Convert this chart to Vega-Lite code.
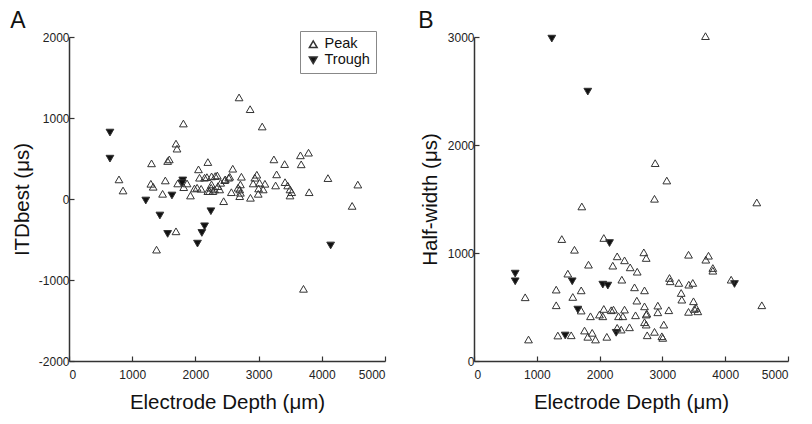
{
  "$schema": "https://vega.github.io/schema/vega-lite/v6.json",
  "background": "white",
  "padding": {"left": 10, "top": 9, "right": 2, "bottom": 2},
  "datasets": {
    "itd": [
      {"depth": 648, "itd": 820, "type": "Trough"},
      {"depth": 648, "itd": 498, "type": "Trough"},
      {"depth": 1215, "itd": -19, "type": "Trough"},
      {"depth": 1438, "itd": -204, "type": "Trough"},
      {"depth": 1561, "itd": -431, "type": "Trough"},
      {"depth": 1629, "itd": 43, "type": "Trough"},
      {"depth": 1800, "itd": 229, "type": "Trough"},
      {"depth": 1790, "itd": 195, "type": "Trough"},
      {"depth": 2245, "itd": -151, "type": "Trough"},
      {"depth": 2145, "itd": -337, "type": "Trough"},
      {"depth": 2102, "itd": -419, "type": "Trough"},
      {"depth": 2033, "itd": -551, "type": "Trough"},
      {"depth": 4140, "itd": -574, "type": "Trough"},
      {"depth": 791, "itd": 242, "type": "Peak"},
      {"depth": 855, "itd": 105, "type": "Peak"},
      {"depth": 1295, "itd": 188, "type": "Peak"},
      {"depth": 1332, "itd": 151, "type": "Peak"},
      {"depth": 1306, "itd": 440, "type": "Peak"},
      {"depth": 1385, "itd": -625, "type": "Peak"},
      {"depth": 1481, "itd": 64, "type": "Peak"},
      {"depth": 1524, "itd": 229, "type": "Peak"},
      {"depth": 1561, "itd": 469, "type": "Peak"},
      {"depth": 1587, "itd": 489, "type": "Peak"},
      {"depth": 1693, "itd": 684, "type": "Peak"},
      {"depth": 1709, "itd": 622, "type": "Peak"},
      {"depth": 1693, "itd": -399, "type": "Peak"},
      {"depth": 1810, "itd": 932, "type": "Peak"},
      {"depth": 1720, "itd": 192, "type": "Peak"},
      {"depth": 1815, "itd": 146, "type": "Peak"},
      {"depth": 1868, "itd": 192, "type": "Peak"},
      {"depth": 1922, "itd": 43, "type": "Peak"},
      {"depth": 1985, "itd": 130, "type": "Peak"},
      {"depth": 2027, "itd": 139, "type": "Peak"},
      {"depth": 2049, "itd": 366, "type": "Peak"},
      {"depth": 2065, "itd": 263, "type": "Peak"},
      {"depth": 2091, "itd": 126, "type": "Peak"},
      {"depth": 2145, "itd": 263, "type": "Peak"},
      {"depth": 2182, "itd": 270, "type": "Peak"},
      {"depth": 2197, "itd": 456, "type": "Peak"},
      {"depth": 2197, "itd": 97, "type": "Peak"},
      {"depth": 2224, "itd": 97, "type": "Peak"},
      {"depth": 2250, "itd": 139, "type": "Peak"},
      {"depth": 2256, "itd": 279, "type": "Peak"},
      {"depth": 2277, "itd": 97, "type": "Peak"},
      {"depth": 2304, "itd": 118, "type": "Peak"},
      {"depth": 2314, "itd": 283, "type": "Peak"},
      {"depth": 2346, "itd": 291, "type": "Peak"},
      {"depth": 2357, "itd": 159, "type": "Peak"},
      {"depth": 2384, "itd": 118, "type": "Peak"},
      {"depth": 2447, "itd": -27, "type": "Peak"},
      {"depth": 2463, "itd": 233, "type": "Peak"},
      {"depth": 2473, "itd": 242, "type": "Peak"},
      {"depth": 2527, "itd": 263, "type": "Peak"},
      {"depth": 2543, "itd": 275, "type": "Peak"},
      {"depth": 2569, "itd": 84, "type": "Peak"},
      {"depth": 2591, "itd": 374, "type": "Peak"},
      {"depth": 2675, "itd": 139, "type": "Peak"},
      {"depth": 2691, "itd": 1254, "type": "Peak"},
      {"depth": 2701, "itd": 35, "type": "Peak"},
      {"depth": 2712, "itd": 180, "type": "Peak"},
      {"depth": 2712, "itd": 77, "type": "Peak"},
      {"depth": 2728, "itd": 275, "type": "Peak"},
      {"depth": 2866, "itd": 1109, "type": "Peak"},
      {"depth": 2871, "itd": 15, "type": "Peak"},
      {"depth": 2914, "itd": 192, "type": "Peak"},
      {"depth": 2940, "itd": 263, "type": "Peak"},
      {"depth": 2972, "itd": 300, "type": "Peak"},
      {"depth": 2994, "itd": 64, "type": "Peak"},
      {"depth": 3015, "itd": 200, "type": "Peak"},
      {"depth": 3057, "itd": 895, "type": "Peak"},
      {"depth": 3073, "itd": 118, "type": "Peak"},
      {"depth": 3100, "itd": 188, "type": "Peak"},
      {"depth": 3242, "itd": 489, "type": "Peak"},
      {"depth": 3269, "itd": 167, "type": "Peak"},
      {"depth": 3285, "itd": 304, "type": "Peak"},
      {"depth": 3412, "itd": 431, "type": "Peak"},
      {"depth": 3418, "itd": 208, "type": "Peak"},
      {"depth": 3460, "itd": 167, "type": "Peak"},
      {"depth": 3497, "itd": 118, "type": "Peak"},
      {"depth": 3524, "itd": 84, "type": "Peak"},
      {"depth": 3497, "itd": 43, "type": "Peak"},
      {"depth": 3662, "itd": 539, "type": "Peak"},
      {"depth": 3790, "itd": 572, "type": "Peak"},
      {"depth": 3674, "itd": 428, "type": "Peak"},
      {"depth": 3710, "itd": -1109, "type": "Peak"},
      {"depth": 3800, "itd": 84, "type": "Peak"},
      {"depth": 4097, "itd": 258, "type": "Peak"},
      {"depth": 4480, "itd": -85, "type": "Peak"},
      {"depth": 4570, "itd": 178, "type": "Peak"},
      {"depth": 2701, "itd": 118, "type": "Peak"},
      {"depth": 2255, "itd": 180, "type": "Peak"},
      {"depth": 2400, "itd": 200, "type": "Peak"},
      {"depth": 3000, "itd": 130, "type": "Peak"}
    ],
    "hw": [
      {"depth": 1239, "hw": 2985, "type": "Trough"},
      {"depth": 1812, "hw": 2494, "type": "Trough"},
      {"depth": 656, "hw": 809, "type": "Trough"},
      {"depth": 656, "hw": 738, "type": "Trough"},
      {"depth": 1564, "hw": 738, "type": "Trough"},
      {"depth": 1653, "hw": 476, "type": "Trough"},
      {"depth": 1452, "hw": 236, "type": "Trough"},
      {"depth": 2051, "hw": 707, "type": "Trough"},
      {"depth": 2131, "hw": 698, "type": "Trough"},
      {"depth": 2158, "hw": 1092, "type": "Trough"},
      {"depth": 2264, "hw": 261, "type": "Trough"},
      {"depth": 4148, "hw": 713, "type": "Trough"},
      {"depth": 3686, "hw": 3008, "type": "Peak"},
      {"depth": 2885, "hw": 1832, "type": "Peak"},
      {"depth": 3070, "hw": 1671, "type": "Peak"},
      {"depth": 2874, "hw": 1502, "type": "Peak"},
      {"depth": 1717, "hw": 1431, "type": "Peak"},
      {"depth": 4503, "hw": 1468, "type": "Peak"},
      {"depth": 1398, "hw": 1129, "type": "Peak"},
      {"depth": 2067, "hw": 1139, "type": "Peak"},
      {"depth": 1600, "hw": 1030, "type": "Peak"},
      {"depth": 2704, "hw": 1006, "type": "Peak"},
      {"depth": 2742, "hw": 954, "type": "Peak"},
      {"depth": 2280, "hw": 969, "type": "Peak"},
      {"depth": 2397, "hw": 932, "type": "Peak"},
      {"depth": 2210, "hw": 883, "type": "Peak"},
      {"depth": 2487, "hw": 867, "type": "Peak"},
      {"depth": 2599, "hw": 827, "type": "Peak"},
      {"depth": 1823, "hw": 892, "type": "Peak"},
      {"depth": 1494, "hw": 809, "type": "Peak"},
      {"depth": 2354, "hw": 753, "type": "Peak"},
      {"depth": 3416, "hw": 984, "type": "Peak"},
      {"depth": 3734, "hw": 975, "type": "Peak"},
      {"depth": 3691, "hw": 938, "type": "Peak"},
      {"depth": 3803, "hw": 861, "type": "Peak"},
      {"depth": 3803, "hw": 836, "type": "Peak"},
      {"depth": 3113, "hw": 769, "type": "Peak"},
      {"depth": 3124, "hw": 738, "type": "Peak"},
      {"depth": 3261, "hw": 723, "type": "Peak"},
      {"depth": 3420, "hw": 707, "type": "Peak"},
      {"depth": 3484, "hw": 723, "type": "Peak"},
      {"depth": 4095, "hw": 753, "type": "Peak"},
      {"depth": 4583, "hw": 516, "type": "Peak"},
      {"depth": 1309, "hw": 661, "type": "Peak"},
      {"depth": 1707, "hw": 654, "type": "Peak"},
      {"depth": 1573, "hw": 593, "type": "Peak"},
      {"depth": 815, "hw": 590, "type": "Peak"},
      {"depth": 2556, "hw": 682, "type": "Peak"},
      {"depth": 2715, "hw": 654, "type": "Peak"},
      {"depth": 3299, "hw": 630, "type": "Peak"},
      {"depth": 3309, "hw": 568, "type": "Peak"},
      {"depth": 3495, "hw": 553, "type": "Peak"},
      {"depth": 3511, "hw": 482, "type": "Peak"},
      {"depth": 3564, "hw": 460, "type": "Peak"},
      {"depth": 3416, "hw": 455, "type": "Peak"},
      {"depth": 3102, "hw": 470, "type": "Peak"},
      {"depth": 2927, "hw": 513, "type": "Peak"},
      {"depth": 2927, "hw": 451, "type": "Peak"},
      {"depth": 2715, "hw": 506, "type": "Peak"},
      {"depth": 2742, "hw": 430, "type": "Peak"},
      {"depth": 2593, "hw": 559, "type": "Peak"},
      {"depth": 2572, "hw": 423, "type": "Peak"},
      {"depth": 2397, "hw": 476, "type": "Peak"},
      {"depth": 2370, "hw": 414, "type": "Peak"},
      {"depth": 2301, "hw": 414, "type": "Peak"},
      {"depth": 2221, "hw": 476, "type": "Peak"},
      {"depth": 2185, "hw": 470, "type": "Peak"},
      {"depth": 2067, "hw": 482, "type": "Peak"},
      {"depth": 2051, "hw": 414, "type": "Peak"},
      {"depth": 1998, "hw": 430, "type": "Peak"},
      {"depth": 1855, "hw": 414, "type": "Peak"},
      {"depth": 1707, "hw": 467, "type": "Peak"},
      {"depth": 1309, "hw": 516, "type": "Peak"},
      {"depth": 2715, "hw": 359, "type": "Peak"},
      {"depth": 2742, "hw": 337, "type": "Peak"},
      {"depth": 3022, "hw": 337, "type": "Peak"},
      {"depth": 2476, "hw": 312, "type": "Peak"},
      {"depth": 2344, "hw": 291, "type": "Peak"},
      {"depth": 2280, "hw": 307, "type": "Peak"},
      {"depth": 1760, "hw": 282, "type": "Peak"},
      {"depth": 1882, "hw": 261, "type": "Peak"},
      {"depth": 1812, "hw": 224, "type": "Peak"},
      {"depth": 1935, "hw": 199, "type": "Peak"},
      {"depth": 2115, "hw": 224, "type": "Peak"},
      {"depth": 2758, "hw": 238, "type": "Peak"},
      {"depth": 2874, "hw": 270, "type": "Peak"},
      {"depth": 2991, "hw": 229, "type": "Peak"},
      {"depth": 3006, "hw": 214, "type": "Peak"},
      {"depth": 1335, "hw": 236, "type": "Peak"},
      {"depth": 1548, "hw": 238, "type": "Peak"},
      {"depth": 868, "hw": 199, "type": "Peak"},
      {"depth": 3538, "hw": 492, "type": "Peak"},
      {"depth": 2752, "hw": 439, "type": "Peak"}
    ]
  },
  "spacing": 32,
  "hconcat": [
    {
      "title": {"text": "A", "anchor": "start", "frame": "bounds", "fontSize": 23, "fontWeight": "normal", "font": "Liberation Sans", "color": "#111", "baseline": "alphabetic", "dx": -2, "offset": -20},
      "width": 316,
      "height": 324,
      "data": {"name": "itd"},
      "mark": {"type": "point", "size": 60, "strokeWidth": 1, "stroke": "#333", "opacity": 1},
      "encoding": {
        "x": {"field": "depth", "type": "quantitative", "scale": {"domain": [0, 5000], "nice": false}, "axis": {"values": [0, 1000, 2000, 3000, 4000, 5000], "title": "Electrode Depth (μm)", "labelExpr": "toString(datum.value)", "tickSize": -5}},
        "y": {"field": "itd", "type": "quantitative", "scale": {"domain": [-2000, 2000], "nice": false}, "axis": {"values": [-2000, -1000, 0, 1000, 2000], "title": "ITDbest (μs)", "labelExpr": "toString(datum.value)", "tickSize": -5, "titlePadding": 6}},
        "shape": {"field": "type", "type": "nominal", "scale": {"domain": ["Peak", "Trough"], "range": ["triangle-up", "triangle-down"]}, "legend": {"title": null, "orient": "none", "legendX": 231, "legendY": -6, "strokeColor": "#888", "padding": 6, "labelFontSize": 14.5, "labelFont": "Liberation Sans", "labelColor": "#111", "symbolSize": 60, "rowPadding": 1, "encode": {"symbols": {"update": {"stroke": {"value": "#333"}, "strokeWidth": {"value": 1}}}}}},
        "fill": {"field": "type", "type": "nominal", "scale": {"domain": ["Peak", "Trough"], "range": ["rgba(255,255,255,0)", "#111"]}, "legend": null}
      }
    },
    {
      "title": {"text": "B", "anchor": "start", "frame": "bounds", "fontSize": 23, "fontWeight": "normal", "font": "Liberation Sans", "color": "#111", "baseline": "alphabetic", "dx": -2, "offset": -20},
      "width": 314,
      "height": 324,
      "data": {"name": "hw"},
      "mark": {"type": "point", "size": 60, "strokeWidth": 1, "stroke": "#333", "opacity": 1},
      "encoding": {
        "x": {"field": "depth", "type": "quantitative", "scale": {"domain": [0, 5000], "nice": false}, "axis": {"values": [0, 1000, 2000, 3000, 4000, 5000], "title": "Electrode Depth (μm)", "labelExpr": "toString(datum.value)", "tickSize": -5}},
        "y": {"field": "hw", "type": "quantitative", "scale": {"domain": [0, 3000], "nice": false}, "axis": {"values": [0, 1000, 2000, 3000], "title": "Half-width (μs)", "labelExpr": "toString(datum.value)", "tickSize": -5, "titlePadding": 7}},
        "shape": {"field": "type", "type": "nominal", "scale": {"domain": ["Peak", "Trough"], "range": ["triangle-up", "triangle-down"]}, "legend": null},
        "fill": {"field": "type", "type": "nominal", "scale": {"domain": ["Peak", "Trough"], "range": ["rgba(255,255,255,0)", "#111"]}, "legend": null}
      }
    }
  ],
  "resolve": {"scale": {"shape": "independent", "fill": "independent"}},
  "config": {
    "view": {"stroke": null},
    "axis": {
      "grid": false,
      "domainColor": "#333",
      "domainWidth": 1.5,
      "tickColor": "#333",
      "tickWidth": 1.2,
      "labelColor": "#222",
      "labelFont": "Liberation Sans",
      "labelFontSize": 12,
      "titleFont": "Liberation Sans",
      "titleFontSize": 20.5,
      "titleFontWeight": "normal",
      "titleColor": "#111"
    },
    "axisY": {"labelPadding": 5},
    "axisX": {"titlePadding": 12, "labelPadding": 13}
  }
}
